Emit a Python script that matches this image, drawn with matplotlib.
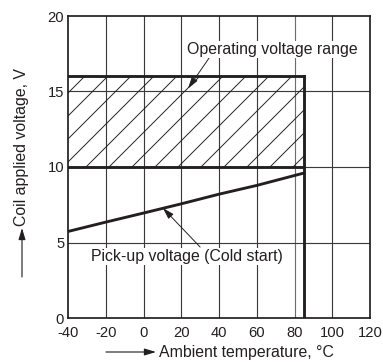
import matplotlib
matplotlib.use("Agg")
import matplotlib.pyplot as plt

plt.rcParams['font.family'] = ['Liberation Sans', 'DejaVu Sans']
plt.rcParams['hatch.linewidth'] = 0.5
plt.rcParams['axes.unicode_minus'] = False

# data
temp = [-40, -20, 0, 20, 40, 60, 85]
pickup = [5.73, 6.35, 6.95, 7.56, 8.2, 8.78, 9.6]
range_x = [-40, 85]
range_low = 10
range_high = 16
max_temp = 85
x_ticks = [-40, -20, 0, 20, 40, 60, 80, 100, 120]
y_ticks = [0, 5, 10, 15, 20]

dpi = 138
fig = plt.figure(figsize=(383 / dpi, 362 / dpi), dpi=dpi)
ax = fig.add_axes([68 / 383, 1 - 318 / 362, 302 / 383, 302 / 362])

ink = "#231f20"
fs = 8.3
tfs = 7.7

# grid
for x in x_ticks[1:-1]:
    ax.axvline(x, color="#6d6d6d" if x == 80 else "#3a3a3a", lw=0.6, zorder=1)
for y in y_ticks[1:-1]:
    ax.axhline(y, color="#3a3a3a", lw=0.6, zorder=1)

# operating range
ax.fill_between(range_x, range_low, range_high, facecolor="none",
                edgecolor=ink, hatch="//", linewidth=0, zorder=2)
ax.plot(range_x, [range_low, range_low], color=ink, lw=1.5, zorder=3)
ax.plot(range_x, [range_high, range_high], color=ink, lw=1.5, zorder=3)
ax.plot([max_temp, max_temp], [0, range_high], color=ink, lw=1.5, zorder=3)

# pick-up voltage
ax.plot(temp, pickup, color=ink, lw=1.5, zorder=3)

arrow = dict(arrowstyle="-|>,head_length=0.5,head_width=0.15", color=ink, lw=0.5,
             shrinkA=0, shrinkB=0)
ax.annotate("", xy=(23.6, 15.2), xytext=(35.2, 17.3), arrowprops=arrow)
ax.text(68, 17.8, "Operating voltage range", fontsize=fs, ha="center", va="center",
        color=ink, bbox=dict(facecolor="white", edgecolor="none", pad=0.5), zorder=4)
ax.annotate("", xy=(10.3, 7.28), xytext=(30, 4.7), arrowprops=arrow)
ax.text(23, 4.05, "Pick-up voltage (Cold start)", fontsize=fs, ha="center",
        va="center", color=ink, bbox=dict(facecolor="white", edgecolor="none", pad=0.5),
        zorder=4)

ax.set_xlim(-40, 120)
ax.set_ylim(0, 20)
ax.set_xticks(x_ticks)
ax.set_yticks(y_ticks)
ax.tick_params(length=0, labelsize=tfs, colors=ink)
ax.tick_params(axis="x", pad=4)
ax.tick_params(axis="y", pad=2)
for s in ax.spines.values():
    s.set_color(ink)
    s.set_linewidth(0.9)

# axis labels with arrows
fig.text(246 / 383, 1 - 352 / 362, "Ambient temperature, \u00b0C", fontsize=fs,
         ha="center", va="center", color=ink)
fig.text(22 / 383, 1 - 147 / 362, "Coil applied voltage, V", fontsize=fs,
         ha="center", va="center", rotation=90, color=ink)
fig_arrow = dict(arrowstyle="-|>,head_length=0.5,head_width=0.15", color=ink, lw=0.6,
                 shrinkA=0, shrinkB=0)
ax.annotate("", xy=(156 / 383, 1 - 352 / 362), xytext=(106 / 383, 1 - 352 / 362),
            xycoords="figure fraction", textcoords="figure fraction",
            arrowprops=fig_arrow, annotation_clip=False)
ax.annotate("", xy=(22 / 383, 1 - 228 / 362), xytext=(22 / 383, 1 - 277 / 362),
            xycoords="figure fraction", textcoords="figure fraction",
            arrowprops=fig_arrow, annotation_clip=False)

fig.savefig("out.png", dpi=dpi)
